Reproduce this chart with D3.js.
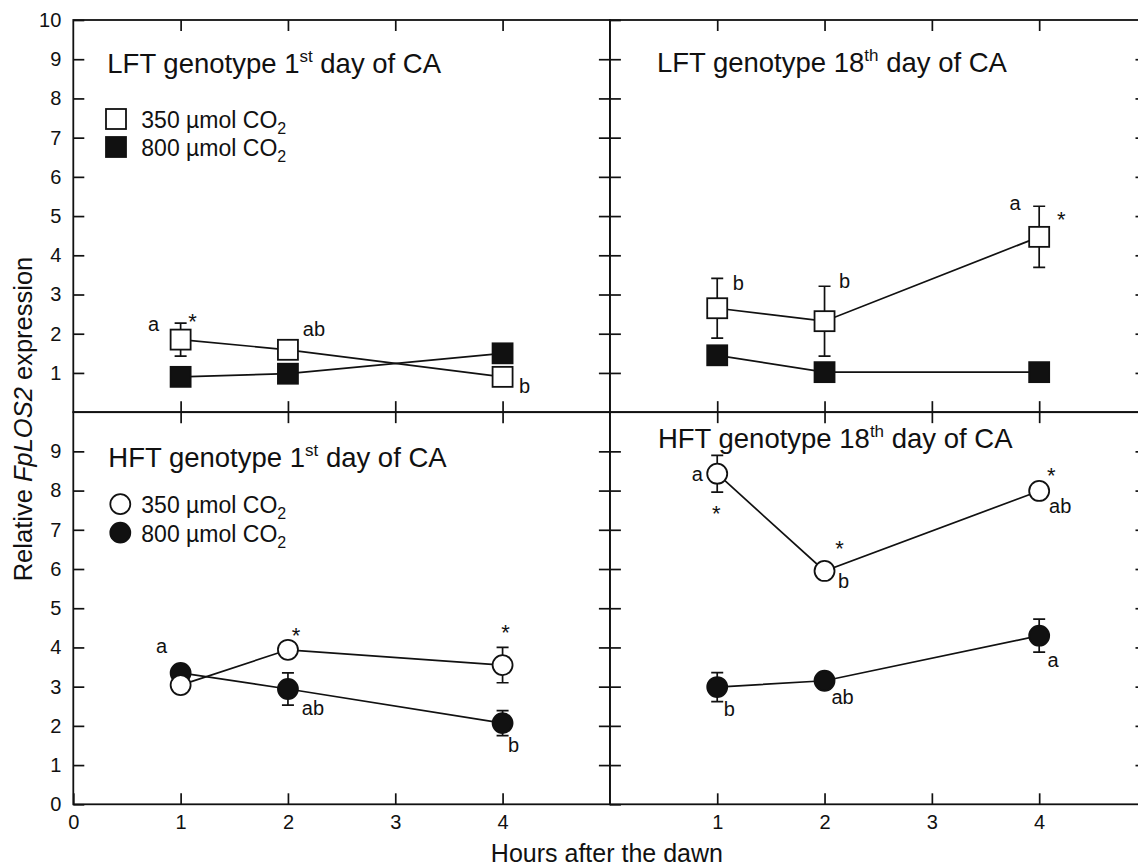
<!DOCTYPE html>
<html>
<head>
<meta charset="utf-8">
<script src="https://cdn.jsdelivr.net/npm/d3@7"></script>
<style>
  body { margin: 0; background: #fff; }
  svg { font-family: "Liberation Sans", Arial, sans-serif; }
</style>
</head>
<body>
<div id="chart"></div>
<script>
// ---- data ----
const hours = [1, 2, 4]

// LFT genotype, 1st day of CA
const lft1_350 = [1.85, 1.59, 0.90]
const lft1_350_err = [0.42, 0, 0]
const lft1_800 = [0.90, 0.98, 1.50]
const lft1_800_err = [0, 0, 0]

// LFT genotype, 18th day of CA
const lft18_350 = [2.65, 2.32, 4.47]
const lft18_350_err = [0.76, 0.89, 0.78]
const lft18_800 = [1.45, 1.02, 1.02]
const lft18_800_err = [0, 0, 0]

// HFT genotype, 1st day of CA
const hft1_350 = [3.04, 3.94, 3.55]
const hft1_350_err = [0, 0, 0.45]
const hft1_800 = [3.35, 2.94, 2.07]
const hft1_800_err = [0, 0.41, 0.32]

// HFT genotype, 18th day of CA
const hft18_350 = [8.43, 5.95, 7.99]
const hft18_350_err = [0.47, 0, 0]
const hft18_800 = [2.99, 3.15, 4.30]
const hft18_800_err = [0.37, 0, 0.42]

// significance letters: [text, hour index, series]
const lft1_labels = [['a', 0, 'lo'], ['*', 0, 'lo'], ['ab', 1, 'lo'], ['b', 2, 'lo']]
const lft18_labels = [['b', 0, 'lo'], ['b', 1, 'lo'], ['a', 2, 'lo'], ['*', 2, 'lo']]
const hft1_labels = [['a', 0, 'hi'], ['*', 1, 'lo'], ['ab', 1, 'hi'], ['*', 2, 'lo'], ['b', 2, 'hi']]
const hft18_labels = [['a', 0, 'lo'], ['*', 0, 'lo'], ['*', 1, 'lo'], ['b', 1, 'lo'],
  ['*', 2, 'lo'], ['ab', 2, 'lo'], ['b', 0, 'hi'], ['ab', 1, 'hi'], ['a', 2, 'hi']]

const legendLabels = ['350 µmol CO', '800 µmol CO']
const yTitle = ['Relative ', 'FpLOS2', ' expression']
const xTitle = 'Hours after the dawn'

// ---- layout ----
const width = 1138
const height = 868
const marginLeft = 73.3
const marginTop = 20
const panelW = 536.6
const panelH = 392.15
const tick = 11
const ink = '#111'

// pixel nudges of the letters from their point
const nudges = {
  lft1: [[-27, -9], [12, -12], [26, -14], [22, 16]],
  lft18: [[21, -18], [20, -33], [-24, -27], [22, -11]],
  hft1: [[-19, -20], [8, -8], [25, 26], [3, -26], [11, 29]],
  hft18: [[-20, 7], [-1, 46], [15, -16], [19, 17], [12, -9], [21, 22], [12, 29], [18, 23], [14, 31]]
}

const panels = [
  { key: 'lft1', col: 0, row: 0, shape: 'square', title: ['LFT genotype 1', 'st', ' day of CA'],
    lo: lft1_350, loErr: lft1_350_err, hi: lft1_800, hiErr: lft1_800_err, labels: lft1_labels,
    legend: true, tx: 34, ty: 53 },
  { key: 'lft18', col: 1, row: 0, shape: 'square', title: ['LFT genotype 18', 'th', ' day of CA'],
    lo: lft18_350, loErr: lft18_350_err, hi: lft18_800, hiErr: lft18_800_err, labels: lft18_labels,
    legend: false, tx: 47, ty: 52 },
  { key: 'hft1', col: 0, row: 1, shape: 'circle', title: ['HFT genotype 1', 'st', ' day of CA'],
    lo: hft1_350, loErr: hft1_350_err, hi: hft1_800, hiErr: hft1_800_err, labels: hft1_labels,
    legend: true, tx: 35, ty: 55 },
  { key: 'hft18', col: 1, row: 1, shape: 'circle', title: ['HFT genotype 18', 'th', ' day of CA'],
    lo: hft18_350, loErr: hft18_350_err, hi: hft18_800, hiErr: hft18_800_err, labels: hft18_labels,
    legend: false, tx: 48, ty: 36 }
]

const svg = d3.select('#chart')
  .append('svg')
  .attr('width', width)
  .attr('height', height)

const xs = d3.scaleLinear().domain([0, 5]).range([0, panelW])
const ys = d3.scaleLinear().domain([0, 10]).range([panelH, 0])

function marker (g, shape, cx, cy, filled) {
  if (shape === 'square') {
    g.append('rect')
      .attr('x', cx - 10).attr('y', cy - 10)
      .attr('width', 20).attr('height', 20)
      .attr('fill', filled ? ink : '#fff')
      .attr('stroke', ink).attr('stroke-width', 1.8)
  } else {
    g.append('circle')
      .attr('cx', cx).attr('cy', cy).attr('r', 10)
      .attr('fill', filled ? ink : '#fff')
      .attr('stroke', ink).attr('stroke-width', 1.8)
  }
}

function styleAxis (g, size) {
  g.select('.domain').remove()
  g.selectAll('.tick line').attr('stroke', ink).attr('stroke-width', 1.7)
  g.selectAll('.tick text').attr('fill', ink)
  g.attr('font-size', size).attr('font-family', null)
}

function drawSeries (g, p, values, errs, filled) {
  let pts = hours.map((h, i) => ({ h: h, v: values[i], e: errs[i] }))
  let line = d3.line()
    .x((d) => xs(d.h))
    .y((d) => ys(d.v))
  g.append('path')
    .datum(pts)
    .attr('d', line)
    .attr('fill', 'none')
    .attr('stroke', ink)
    .attr('stroke-width', 1.7)

  // error bars
  pts.filter((d) => d.e > 0).forEach((d) => {
    let cx = xs(d.h)
    let y0 = ys(d.v - d.e)
    let y1 = ys(d.v + d.e)
    g.append('path')
      .attr('d', `M${cx},${y0}V${y1}M${cx - 6},${y0}H${cx + 6}M${cx - 6},${y1}H${cx + 6}`)
      .attr('fill', 'none')
      .attr('stroke', ink)
      .attr('stroke-width', 1.7)
  })

  pts.forEach((d) => marker(g, p.shape, xs(d.h), ys(d.v), filled))
}

panels.forEach((p) => {
  let g = svg.append('g')
    .attr('transform', `translate(${marginLeft + p.col * panelW},${marginTop + p.row * panelH})`)

  // frame
  g.append('rect')
    .attr('width', panelW).attr('height', panelH)
    .attr('fill', 'none').attr('stroke', ink).attr('stroke-width', 1.8)

  // axes, all ticks pointing inward
  let yVals = p.row === 0 ? d3.range(1, 11) : d3.range(0, 10)
  g.append('g')
    .call(d3.axisLeft(ys).tickValues(yVals).tickSize(-tick).tickPadding(12)
      .tickFormat(p.col === 0 ? d3.format('d') : ''))
    .call((a) => styleAxis(a, 20))
  g.append('g')
    .attr('transform', `translate(${panelW},0)`)
    .call(d3.axisRight(ys).tickValues(d3.range(1, 10)).tickSize(-tick).tickFormat(''))
    .call((a) => styleAxis(a, 20))
  g.append('g')
    .call(d3.axisTop(xs).tickValues([1, 2, 3, 4]).tickSize(-tick).tickFormat(''))
    .call((a) => styleAxis(a, 20))
  let xVals = (p.row === 1 && p.col === 0) ? [0, 1, 2, 3, 4] : [1, 2, 3, 4]
  g.append('g')
    .attr('transform', `translate(0,${panelH})`)
    .call(d3.axisBottom(xs).tickValues(xVals).tickSize(-tick).tickPadding(11)
      .tickFormat(p.row === 1 ? d3.format('d') : ''))
    .call((a) => styleAxis(a, 20))

  // title
  let t = g.append('text')
    .attr('x', p.tx).attr('y', p.ty)
    .attr('font-size', 27.5).attr('fill', ink)
  t.append('tspan').text(p.title[0])
  t.append('tspan').attr('dy', -11).attr('font-size', 17).text(p.title[1])
  t.append('tspan').attr('dy', 11).text(p.title[2])

  // series: 800 (filled) under 350 (open)
  drawSeries(g, p, p.hi, p.hiErr, true)
  drawSeries(g, p, p.lo, p.loErr, false)

  // significance letters
  p.labels.forEach((l, k) => {
    let vals = l[2] === 'lo' ? p.lo : p.hi
    let n = nudges[p.key][k]
    let star = l[0] === '*'
    g.append('text')
      .attr('x', xs(hours[l[1]]) + n[0])
      .attr('y', ys(vals[l[1]]) + n[1] + (star ? 1 : 0))
      .attr('text-anchor', 'middle')
      .attr('font-size', star ? 22 : 20)
      .attr('fill', ink)
      .text(l[0])
  })

  // legend
  if (p.legend) {
    let lx = p.shape === 'square' ? 42.7 : 47
    let ly0 = p.shape === 'square' ? 99 : 92
    let step = p.shape === 'square' ? 28 : 28.5
    legendLabels.forEach((lab, i) => {
      let cy = ly0 + i * step
      marker(g, p.shape, lx, cy, i === 1)
      let tx = g.append('text')
        .attr('x', 68).attr('y', cy + 9.3)
        .attr('font-size', 23).attr('fill', ink)
      tx.append('tspan').text(lab)
      tx.append('tspan').attr('dy', 6).attr('font-size', 16).text('2')
    })
  }
})

// axis titles
let yt = svg.append('text')
  .attr('transform', `translate(31.5,419) rotate(-90)`)
  .attr('text-anchor', 'middle')
  .attr('font-size', 25.5)
  .attr('fill', ink)
yt.append('tspan').text(yTitle[0])
yt.append('tspan').attr('font-style', 'italic').text(yTitle[1])
yt.append('tspan').text(yTitle[2])

svg.append('text')
  .attr('x', marginLeft + panelW - 3)
  .attr('y', 861.5)
  .attr('text-anchor', 'middle')
  .attr('font-size', 25)
  .attr('fill', ink)
  .text(xTitle)
</script>
</body>
</html>
